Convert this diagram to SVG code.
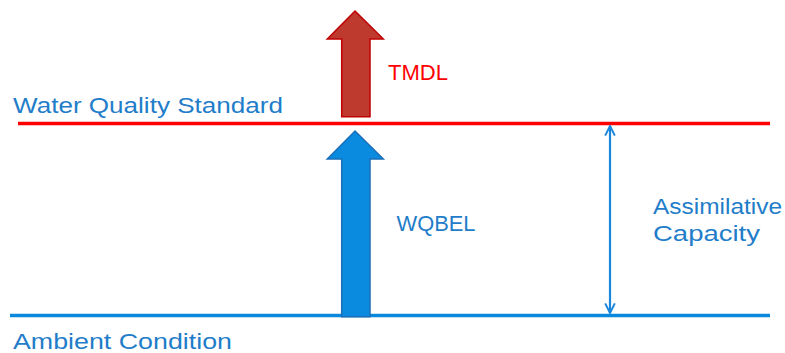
<svg xmlns="http://www.w3.org/2000/svg" width="785" height="353" viewBox="0 0 785 353">
<style>
text{font-family:"Century Gothic","Liberation Sans",Arial,sans-serif;font-size:22px}
.blue{fill:#1F7DC9}
.red{fill:#FF0000}
</style>
<defs>
<marker id="chev" viewBox="0 0 10 10" refX="9" refY="5" markerWidth="5.5" markerHeight="5.5" orient="auto-start-reverse" markerUnits="strokeWidth">
<path d="M1,1 L9,5 L1,9" fill="none" stroke="#1A86DC" stroke-width="1.6"/>
</marker>
</defs>
<rect width="785" height="353" fill="#fff"/>
<g id="levels">
<line x1="18" y1="123.5" x2="770" y2="123.5" stroke="#FF0000" stroke-width="3.5"/>
<line x1="10" y1="315.5" x2="770" y2="315.5" stroke="#0A88DD" stroke-width="3.5"/>
</g>
<g id="tmdl-arrow">
<path d="M355,11 L383.3,39 L370,39 L370,116.7 L341.7,116.7 L341.7,39 L327.3,39 Z" fill="#BF3A2E" stroke="#C00000" stroke-width="1.5"/>
</g>
<g id="wqbel-arrow">
<path d="M355,131 L383.3,159 L370,159 L370,316.7 L341.7,316.7 L341.7,159 L327.3,159 Z" fill="#0A8BE0" stroke="#1A6FB8" stroke-width="1.5"/>
</g>
<g id="connectors">
<line x1="610" y1="126" x2="610" y2="313" stroke="#1A86DC" stroke-width="2.2" marker-start="url(#chev)" marker-end="url(#chev)"/>
</g>
<g id="labels">
<text x="13" y="112.5" class="blue" textLength="270" lengthAdjust="spacingAndGlyphs">Water Quality Standard</text>
<text x="13" y="349" class="blue" textLength="219" lengthAdjust="spacingAndGlyphs">Ambient Condition</text>
<text x="388" y="80" class="red" textLength="60" lengthAdjust="spacingAndGlyphs">TMDL</text>
<text x="396.5" y="231" class="blue" textLength="79" lengthAdjust="spacingAndGlyphs">WQBEL</text>
<text x="653" y="214" class="blue" textLength="129" lengthAdjust="spacingAndGlyphs">Assimilative</text>
<text x="653" y="241" class="blue" textLength="107" lengthAdjust="spacingAndGlyphs">Capacity</text>
</g>
</svg>
